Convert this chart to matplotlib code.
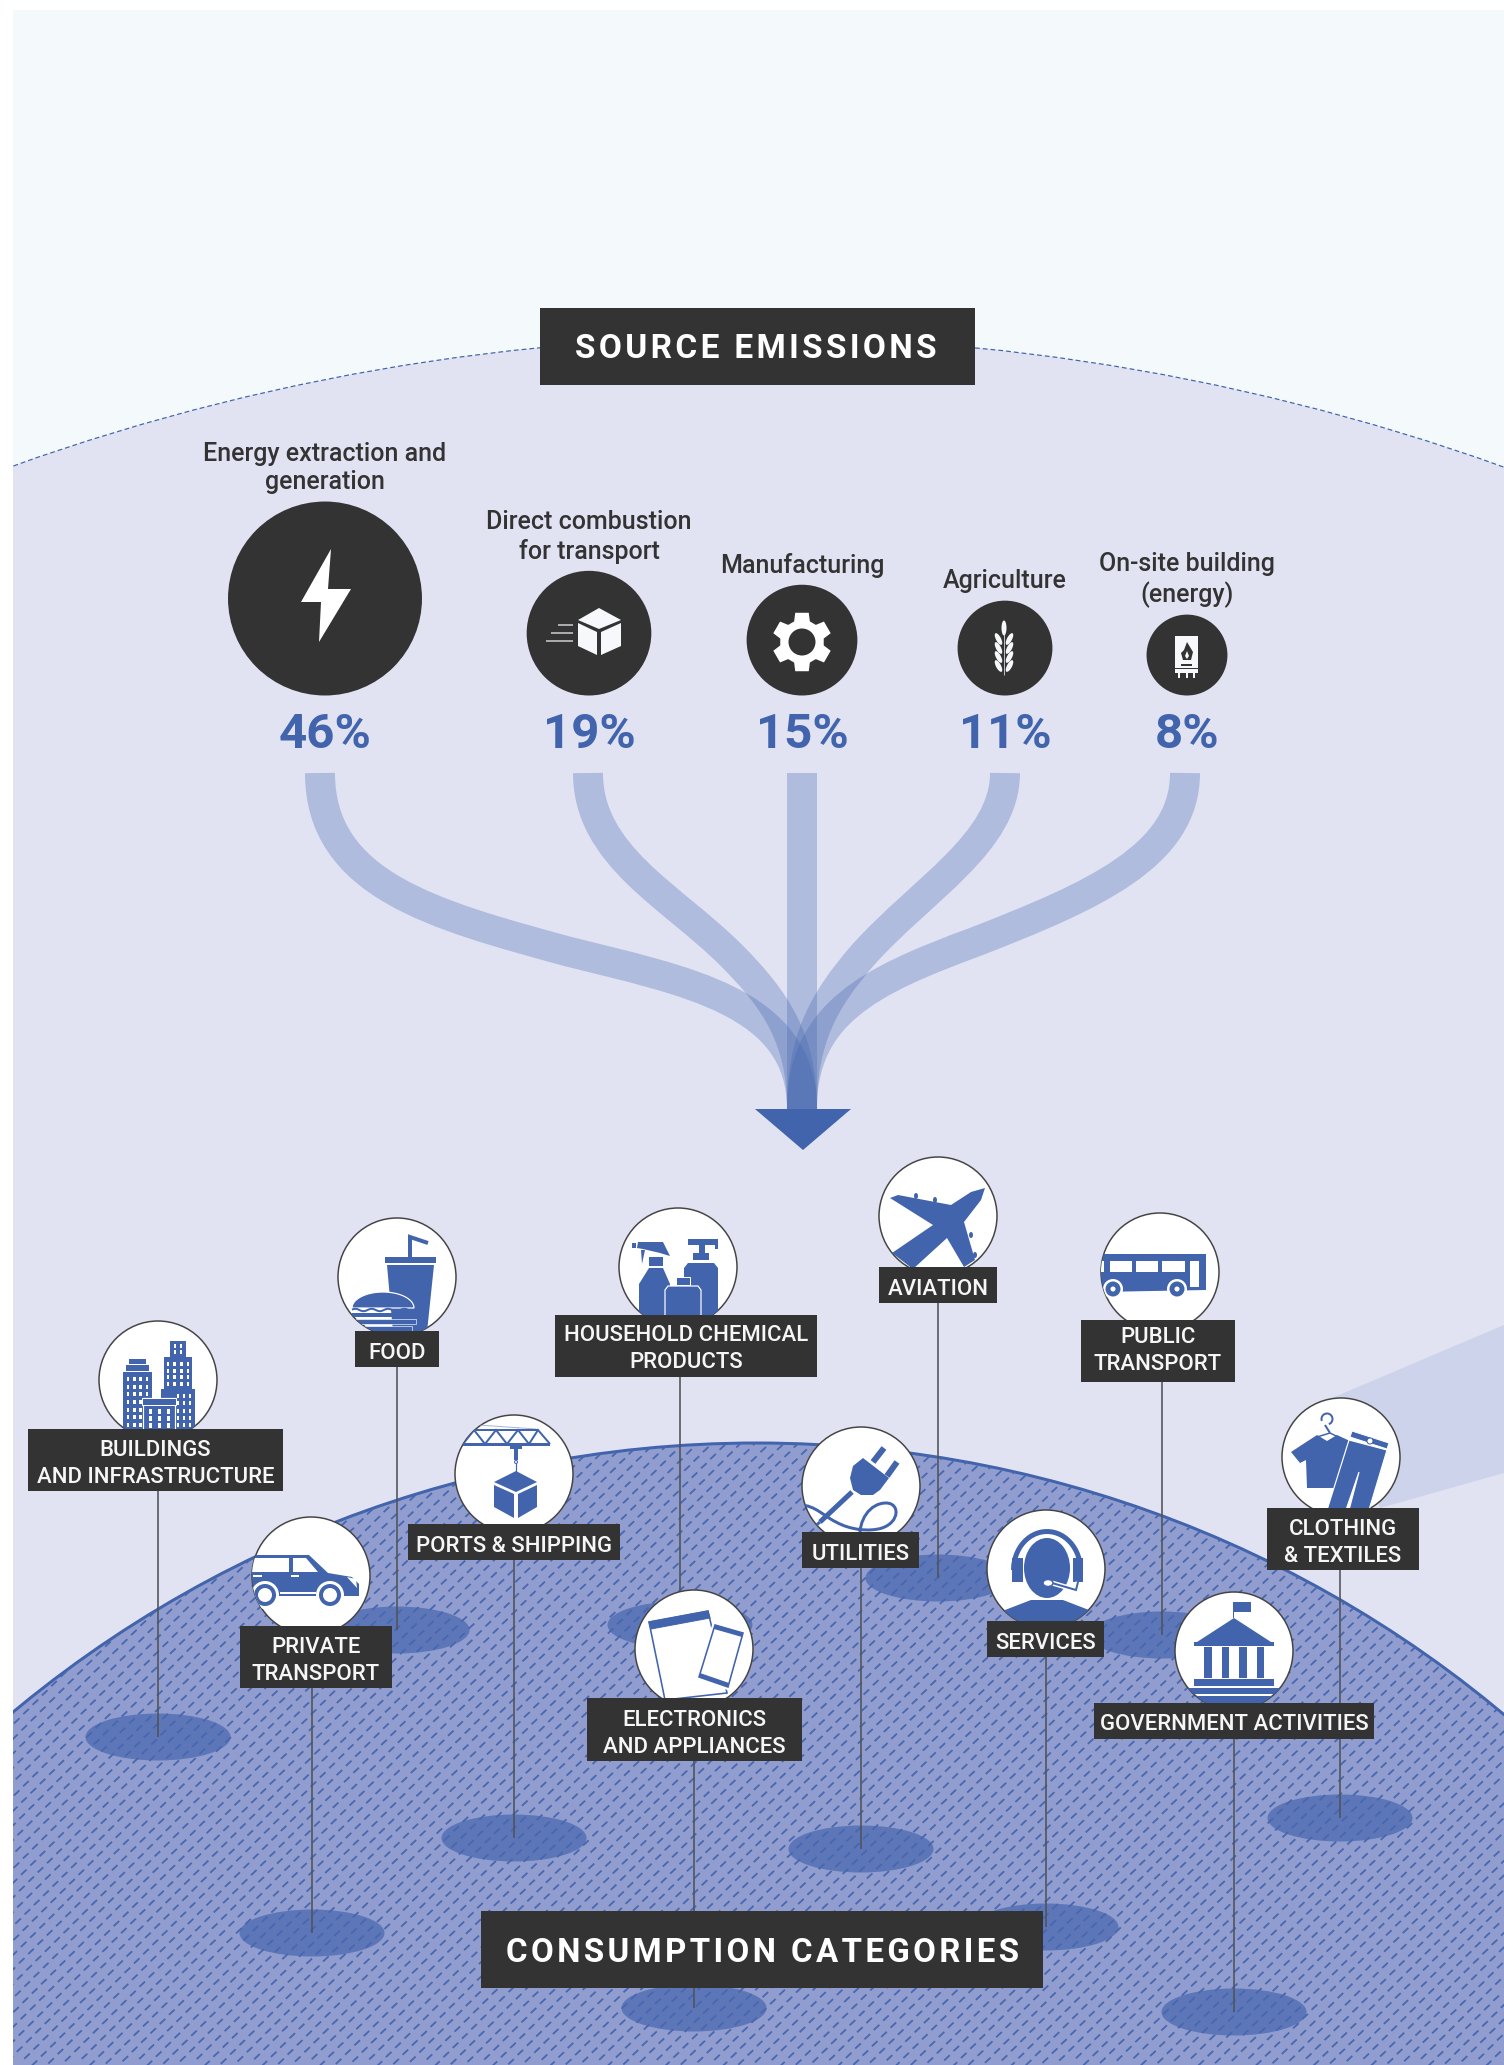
import numpy as np
import matplotlib
matplotlib.use('Agg')
import matplotlib.pyplot as plt
from matplotlib.patches import Polygon, Circle, Ellipse, Rectangle, PathPatch
from matplotlib.path import Path
from matplotlib.collections import LineCollection

plt.rcParams['font.family'] = ['Roboto', 'DejaVu Sans']

# data
source_titles = ['Energy extraction and\ngeneration', 'Direct combustion\nfor transport',
                 'Manufacturing', 'Agriculture', 'On-site building\n(energy)']
source_pct = [46, 19, 15, 11, 8]
category_labels = ['BUILDINGS\nAND INFRASTRUCTURE', 'FOOD', 'HOUSEHOLD CHEMICAL\nPRODUCTS',
                   'PORTS & SHIPPING', 'PRIVATE\nTRANSPORT', 'AVIATION', 'PUBLIC\nTRANSPORT',
                   'CLOTHING\n& TEXTILES', 'UTILITIES', 'SERVICES', 'ELECTRONICS\nAND APPLIANCES',
                   'GOVERNMENT ACTIVITIES']
title_top = 'SOURCE EMISSIONS'
title_bottom = 'CONSUMPTION CATEGORIES'

# layout, in pixels of the 1504x2065 picture
source_x = [325, 589, 802, 1005, 1187]
source_title_y = [468, 537, 566, 581, 580]
# circle x, circle y, box left, box top, box right, box bottom, line x, spot y
category_pos = [
    (158, 1380, 28, 1429, 283, 1491, 158, 1737),
    (397, 1277, 355, 1331, 439, 1367, 397, 1630),
    (678, 1267, 555, 1315, 817, 1377, 680, 1625),
    (514, 1474, 408, 1524, 620, 1560, 514, 1838),
    (311, 1576, 240, 1626, 392, 1688, 312, 1933),
    (938, 1216, 879, 1267, 997, 1303, 938, 1578),
    (1160, 1272, 1081, 1320, 1235, 1382, 1162, 1635),
    (1341, 1457, 1267, 1508, 1419, 1570, 1340, 1818),
    (861, 1486, 802, 1532, 919, 1568, 861, 1849),
    (1046, 1569, 987, 1621, 1104, 1657, 1046, 1927),
    (694, 1649, 587, 1698, 802, 1761, 694, 2008),
    (1234, 1651, 1094, 1703, 1374, 1739, 1234, 2012),
]
# y of the last text line's baseline in each box
label_baseline = [1483, 1359, 1368, 1552, 1680, 1295, 1370, 1562, 1560, 1649, 1753, 1730]

BLUE = '#4164ac'
DARK = '#333333'
LILAC = '#e1e3f3'
px = 0.72  # one picture pixel in points at dpi 100

fig = plt.figure(figsize=(15.04, 20.65), dpi=100)
ax = fig.add_axes([0, 0, 1, 1])
ax.set_xlim(0, 1504)
ax.set_ylim(2065, 0)
ax.axis('off')

cur = {'z': 5, 'clip': None}


def add(p):
    p.set_zorder(cur['z'])
    ax.add_patch(p)
    if cur['clip'] is not None:
        p.set_clip_path(cur['clip'])
    return p


def poly(pts, fc=BLUE, ec='none', lw=0):
    return add(Polygon(pts, closed=True, fc=fc, ec=ec, lw=lw * px))


def rect(x0, y0, x1, y1, fc=BLUE, ec='none', lw=0):
    return add(Rectangle((x0, y0), x1 - x0, y1 - y0, fc=fc, ec=ec, lw=lw * px))


def ell(x, y, w, h, angle=0, fc=BLUE, ec='none', lw=0):
    return add(Ellipse((x, y), w, h, angle=angle, fc=fc, ec=ec, lw=lw * px))


def stroke(pts, color=BLUE, lw=2, smooth=False, cap='butt'):
    pts = list(pts)
    if smooth:
        # points after the first go in threes: two controls and an end
        codes = [Path.MOVETO] + [Path.CURVE4] * (len(pts) - 1)
    else:
        codes = [Path.MOVETO] + [Path.LINETO] * (len(pts) - 1)
    return add(PathPatch(Path(pts, codes), fc='none', ec=color, lw=lw * px, capstyle=cap))


def arc(cx, cy, rx, ry, a0, a1, n=30):
    a = np.radians(np.linspace(a0, a1, n))
    return list(zip(cx + rx * np.cos(a), cy - ry * np.sin(a)))


def windows(x0, y0, x1, y1, nx, ny, w=2.5, h=4):
    for x in np.linspace(x0, x1, nx):
        for y in np.linspace(y0, y1, ny):
            rect(x - w / 2, y - h / 2, x + w / 2, y + h / 2, fc='white')


# backgrounds
ax.add_patch(Rectangle((13, 10), 1491, 2055, fc='#f4f9fb', ec='none', zorder=0))
dome_top = Circle((757, 2547), 2210, fc=LILAC, ec=BLUE, lw=1.2 * px, ls=(0, (4, 2.5)), zorder=1)
ax.add_patch(dome_top)
ax.add_patch(Polygon([(1332, 1398), (1504, 1325), (1504, 1473), (1380, 1508)],
                     fc='#cdd3ea', ec='none', zorder=1.5))

# flows from the source percentages into the arrow
flow_paths = [
    [(320, 773), (320, 885), (435, 915), (566, 951), (685, 981), (802, 1001), (802, 1109)],
    [(588, 773), (588, 856), (672, 896), (731, 955), (777, 1001), (802, 1040), (802, 1109)],
    [(802, 773), (802, 885), (802, 997), (802, 1109)],
    [(1005, 773), (1005, 843), (922, 889), (863, 955), (823, 1001), (802, 1040), (802, 1109)],
    [(1185, 773), (1185, 856), (1093, 896), (975, 942), (869, 981), (802, 1014), (802, 1109)],
]
for pts in flow_paths:
    codes = [Path.MOVETO] + [Path.CURVE4] * (len(pts) - 1)
    ax.add_patch(PathPatch(Path(pts, codes), fc='none', ec=BLUE, alpha=0.3, lw=30 * px,
                           capstyle='butt', zorder=2))
ax.add_patch(Polygon([(755, 1109), (851, 1109), (803, 1150)], fc=BLUE, ec='none', zorder=3))

# consumption dome, spots, dash texture
dome = Circle((757, 2606), 1163, fc='#919dce', ec=BLUE, lw=3 * px, zorder=4)
ax.add_patch(dome)
for c in category_pos:
    spot = Ellipse((c[6], c[7]), 145, 47, fc='#5c76b8', ec='none', zorder=4.2)
    ax.add_patch(spot)
    spot.set_clip_path(dome)
i, j = np.meshgrid(np.arange(-90, 170), np.arange(-30, 130))
dx = (i * 16.7 + j * -9.3 + 600).ravel()
dy = (i * -2.3 + j * 9.3 + 1440).ravel()
keep = (dx > 0) & (dx < 1504) & (dy > 1400) & (dy < 2065)
dx, dy = dx[keep], dy[keep]
segs = np.stack([np.column_stack([dx - 2.8, dy + 2.6]), np.column_stack([dx + 2.8, dy - 2.6])], axis=1)
dashes = LineCollection(segs, colors='#4767b0', linewidths=1.8 * px, zorder=4.4)
ax.add_collection(dashes)
dashes.set_clip_path(dome)

# left margin stays white
ax.add_patch(Rectangle((0, 0), 13, 2065, fc='white', ec='none', zorder=4.9))
ax.add_patch(Rectangle((0, 0), 1504, 10, fc='white', ec='none', zorder=4.9))

# source circles, area follows the share
for x, pct, title, ty in zip(source_x, source_pct, source_titles, source_title_y):
    r = 14.3 * np.sqrt(pct)
    ax.add_patch(Circle((x, 695.5 - r), r, fc=DARK, ec='none', zorder=5))
    ax.text(x, ty, title, ha='center', va='center', fontsize=18, fontweight='medium',
            color=DARK, linespacing=1.22, zorder=6)
    ax.text(x, 735, f'{pct}%', ha='center', va='center', fontsize=35.5, fontweight='bold',
            color=BLUE, zorder=6)

W = '#f6f8fb'
cur['z'] = 6
# bolt
poly([(331, 549), (301, 602), (321, 602), (319, 642), (351, 589), (328, 589)], fc='white')
# box with speed lines
poly([(599, 608), (621, 620), (599, 629), (578, 620)], fc=W)
poly([(578, 623), (597, 632), (597, 655), (578, 646)], fc=W)
poly([(601, 632), (621, 623), (621, 646), (601, 655)], fc=W)
for x0, y in [(558, 625), (551, 633), (546, 641)]:
    stroke([(x0, y), (573, y)], color='#cfd2d8', lw=1.5)
# gear
gear = []
for a in np.arange(0, 360, 60) + 90:
    for da, r in [(-21, 22), (-13, 30), (13, 30), (21, 22)]:
        t = np.radians(a + da)
        gear.append((802 + r * np.cos(t), 642 - r * np.sin(t)))
poly(gear, fc='white')
cur['z'] = 6.1
ell(802, 642, 27, 27, fc=DARK)
cur['z'] = 6
# wheat
stroke([(1004, 625), (1004, 675)], color='#b9bcc2', lw=1)
ell(1004, 628, 5, 15, fc=W)
for y in [639, 648, 657, 666]:
    ell(998.5, y, 5, 13, angle=-28, fc=W)
    ell(1009.5, y, 5, 13, angle=28, fc=W)
# heater
rect(1175, 636, 1198, 668, fc=W)
rect(1175, 669, 1198, 673, fc=W)
rect(1178, 673, 1180, 678, fc=W)
rect(1186, 673, 1188, 678, fc=W)
rect(1193, 673, 1195, 678, fc=W)
cur['z'] = 6.1
poly([(1187, 642), (1193, 652), (1191, 660), (1183, 660), (1181, 653), (1184, 650)], fc=DARK)
poly([(1187, 651), (1189, 656), (1187, 659), (1185, 656)], fc=W)
rect(1181, 664, 1192, 666, fc=DARK)


def ic_buildings():
    rect(170, 1341, 186, 1357)
    windows(175, 1346, 181, 1352, 2, 2)
    rect(164, 1357, 192, 1389)
    windows(168, 1364, 188, 1384, 4, 4)
    rect(161, 1389, 195, 1430)
    windows(178, 1396, 190, 1425, 3, 5)
    rect(123, 1372, 152, 1430)
    windows(128, 1379, 147, 1425, 4, 7)
    rect(126, 1365, 149, 1371)
    rect(129, 1359, 146, 1364)
    rect(143, 1398, 175, 1430, ec='white', lw=1.2)
    rect(142, 1398, 176, 1405, ec='white', lw=1)
    windows(150, 1411, 168, 1425, 3, 3, w=3, h=5)


def ic_food():
    rect(385, 1257, 436, 1263)
    poly([(387, 1265), (434, 1265), (427, 1332), (393, 1332)])
    stroke([(410, 1257), (410, 1237), (428, 1243)], lw=4)
    dome_pts = arc(383, 1308, 31, 16, 180, 0)
    poly(dome_pts, ec='white', lw=1.2)
    xs = np.linspace(352, 414, 60)
    stroke(list(zip(xs, 1310 + 1.2 * np.sin(xs / 2.6))), lw=2)
    rect(352, 1313, 414, 1317, ec='none')
    rect(352, 1319, 416, 1324, ec='white', lw=0.6)
    rect(354, 1326, 412, 1335, ec='white', lw=0.6)


def ic_chemical():
    poly([(638, 1242), (663, 1242), (670, 1256), (660, 1253), (643, 1249), (637, 1248)])
    rect(632, 1243, 636, 1248)
    poly([(641, 1250), (645, 1250), (642, 1264)])
    rect(649, 1257, 663, 1266)
    poly([(649, 1268), (663, 1268), (670, 1284), (670, 1320), (639, 1320), (639, 1284)])
    rect(688, 1239, 718, 1245)
    rect(715, 1243, 718, 1249)
    rect(699, 1245, 705, 1253)
    rect(693, 1253, 709, 1260)
    poly([(688, 1263), (714, 1263), (718, 1268), (718, 1320), (684, 1320), (684, 1268)])
    rect(676, 1277, 690, 1285, ec='white', lw=1)
    poly([(668, 1286), (698, 1286), (701, 1290), (701, 1320), (665, 1320), (665, 1290)],
         ec='white', lw=1.2)


def ic_ports():
    stroke([(478, 1425), (536, 1429)], color='#a9b5da', lw=1)
    rect(463, 1443, 550, 1445.5)
    rect(474, 1428.5, 538, 1430.5)
    stroke([(463, 1444), (474, 1430), (485, 1444), (496, 1430), (507, 1444), (518, 1430),
            (529, 1444), (538, 1430), (550, 1444)], lw=2)
    rect(510, 1443, 522, 1449)
    rect(514, 1449, 518, 1460)
    stroke([(516, 1460), (516, 1472)], lw=1.2)
    ell(516, 1462, 3, 3, fc='white', ec=BLUE, lw=1)
    poly([(516, 1471), (537, 1482), (516, 1492), (494, 1482)])
    poly([(494, 1485), (514, 1494), (514, 1518), (494, 1507)])
    poly([(518, 1494), (537, 1485), (537, 1507), (518, 1518)])


def ic_car():
    poly([(245, 1555), (309, 1555), (328, 1573), (352, 1577), (359, 1584), (359, 1596),
          (245, 1596)])
    rect(245, 1558, 289, 1572, fc='white')
    poly([(293, 1558), (306, 1558), (318, 1572), (293, 1572)], fc='white')
    rect(291, 1575, 299, 1577, fc='white')
    rect(253, 1575, 262, 1577, fc='white')
    poly([(347, 1577), (356, 1579), (357, 1588)], fc='white')
    rect(280, 1592, 316, 1594, fc='white')
    for x in [265, 330]:
        ell(x, 1595, 28, 28, fc='white')
        ell(x, 1595, 22, 22)
        ell(x, 1595, 14, 14, fc='white')


def ic_electronics():
    poly([(649, 1622), (708, 1611), (727, 1693), (665, 1700)], fc='white', ec=BLUE, lw=1.6)
    poly([(649, 1622), (708, 1611), (710, 1618), (651, 1629)], ec=BLUE, lw=1)
    poly([(713, 1622), (746, 1632), (730, 1691), (695, 1678)], fc='white')
    poly([(715, 1625), (743, 1633), (728, 1687), (699, 1677)], fc='white', ec=BLUE, lw=1.6)
    poly([(715, 1625), (743, 1633), (742, 1637), (714, 1629)])
    poly([(700, 1673), (729, 1683), (728, 1687), (699, 1677)])


def ic_plug():
    stroke([(873, 1462), (884, 1448)], lw=6)
    stroke([(887, 1476), (897, 1462)], lw=6)
    poly([(863, 1458), (889, 1478), (880, 1490), (873, 1495), (861, 1495), (853, 1490),
          (850, 1478), (853, 1466)])
    stroke([(852, 1492), (820, 1522)], lw=5)
    stroke([(820, 1522), (805, 1535)], lw=3)
    stroke([(800, 1505), (815, 1505), (825, 1517), (836, 1522), (850, 1530), (870, 1532), (882, 1528),
            (900, 1522), (900, 1503), (886, 1503), (870, 1503), (858, 1520), (860, 1540)],
           lw=3, smooth=True)


def ic_plane():
    poly([(985, 1188), (981, 1200), (964, 1222), (975, 1260), (964, 1267), (947, 1238), (913, 1269),
          (892, 1253), (933, 1225), (890, 1198), (898, 1195), (951, 1205), (971, 1192)])
    ell(916, 1196, 4, 6)
    ell(935, 1200, 4, 6)
    ell(971, 1235, 4, 6)
    ell(975, 1255, 4, 6)


def ic_bus():
    poly([(1098, 1254), (1206, 1254), (1206, 1290), (1098, 1292)])
    for x0, x1 in [(1110, 1132), (1136, 1158), (1162, 1185)]:
        rect(x0, 1261, x1, 1272, fc='white')
    rect(1101, 1261, 1104, 1272, fc='white')
    rect(1190, 1261, 1199, 1287, fc='white')
    for x in [1113, 1177]:
        ell(x, 1289, 20, 20, fc='white')
        ell(x, 1289, 15, 15)
        ell(x, 1289, 5, 5, fc='white')


def ic_clothing():
    stroke(arc(1327, 1419, 5.5, 5.5, -70, 200), lw=2)
    stroke([(1325, 1425), (1330, 1433)], lw=2)
    stroke([(1330, 1433), (1317, 1437)], lw=1.5)
    stroke([(1330, 1433), (1338, 1437)], lw=1.5)
    poly([(1291, 1452), (1317, 1435), (1327, 1441), (1337, 1435), (1352, 1442), (1339, 1488),
          (1307, 1488), (1306, 1460), (1300, 1463)])
    poly([(1349, 1440), (1387, 1450), (1369, 1510), (1349, 1510), (1359, 1472), (1346, 1510),
          (1327, 1510)], ec='white', lw=1.2)
    poly([(1352, 1431), (1389, 1443), (1387, 1449), (1350, 1437)], ec='white', lw=1)
    ell(1370, 1441, 6, 6, fc='white', ec=BLUE, lw=1)


def ic_headset():
    poly(arc(1047, 1570, 36, 41, 0, 180) + arc(1047, 1570, 31, 36, 180, 0))
    rect(1012, 1558, 1023, 1582)
    rect(1073, 1558, 1083, 1582)
    poly([(1005, 1610), (1031, 1600), (1063, 1600), (1089, 1610), (1100, 1630), (995, 1630)])
    ell(1047, 1568, 46, 60)
    stroke([(1078, 1582), (1076, 1590), (1052, 1583)], color='white', lw=5)
    stroke([(1078, 1582), (1076, 1590), (1052, 1583)], lw=2)
    ell(1048, 1583, 10, 7, fc='white', ec=BLUE, lw=1.5)


def ic_government():
    rect(1233, 1602, 1251, 1612)
    rect(1232.5, 1602, 1234, 1618)
    poly([(1234, 1618), (1197, 1642), (1271, 1642)])
    rect(1194, 1642, 1274, 1646)
    for x0, x1 in [(1204, 1212), (1222, 1229), (1239, 1247), (1257, 1264)]:
        rect(x0, 1647, x1, 1678)
    rect(1194, 1679, 1274, 1686)
    rect(1186, 1688, 1282, 1694)
    rect(1186, 1696, 1282, 1706)


icons = [ic_buildings, ic_food, ic_chemical, ic_ports, ic_car, ic_plane, ic_bus, ic_clothing,
         ic_plug, ic_headset, ic_electronics, ic_government]

# stems below everything of the nodes
for c in category_pos:
    ax.plot([c[6], c[6]], [c[5], c[7]], color='#505359', lw=1.6 * px, zorder=4.6,
            solid_capstyle='butt')

for n, (c, label, base, icon) in enumerate(zip(category_pos, category_labels, label_baseline, icons)):
    z = 7 + n
    node = Circle((c[0], c[1]), 59, fc='white', ec='#444444', lw=1.5 * px, zorder=z)
    ax.add_patch(node)
    cur['z'] = z + 0.2
    cur['clip'] = node
    icon()
    cur['clip'] = None
    ax.add_patch(Rectangle((c[2], c[3]), c[4] - c[2], c[5] - c[3], fc=DARK, ec='none', zorder=z + 0.5))
    ax.text((c[2] + c[4]) / 2, base, label, ha='center', va='baseline', fontsize=15.9,
            fontweight='medium', color='#f6f6f6', linespacing=1.36, zorder=z + 0.6)


# section titles, letters spread with hair spaces
def spread(s):
    return '\u200a'.join(s)


ax.add_patch(Rectangle((540, 308), 435, 77, fc=DARK, ec='none', zorder=30))
ax.text(756, 349.5, spread(title_top), ha='center', va='center', fontsize=24, fontweight='bold',
        color='white', zorder=31)
ax.add_patch(Rectangle((481, 1911), 562, 77, fc=DARK, ec='none', zorder=30))
ax.text(763, 1952.5, spread(title_bottom), ha='center', va='center', fontsize=23.8, fontweight='bold',
        color='white', zorder=31)

fig.savefig('out.png', dpi=100)
